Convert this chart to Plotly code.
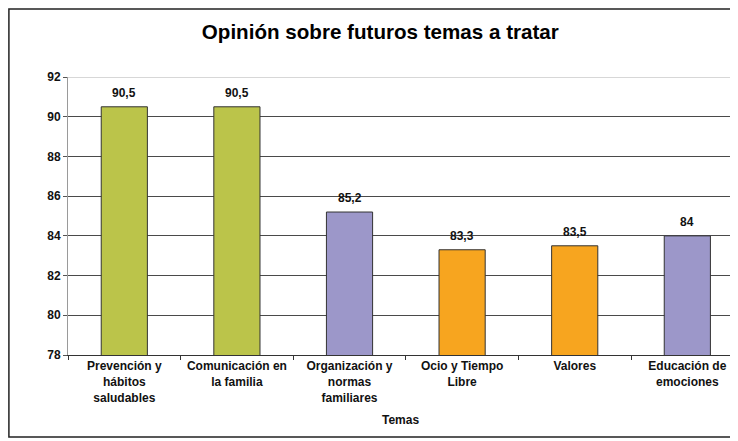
import plotly.graph_objects as go

categories = ["Prevención y<br>hábitos<br>saludables", "Comunicación en<br>la familia",
              "Organización y<br>normas<br>familiares", "Ocio y Tiempo<br>Libre", "Valores",
              "Educación de<br>emociones"]
values = [90.5, 90.5, 85.2, 83.3, 83.5, 84]
colors = ["#BBC44A", "#BBC44A", "#9C97C9", "#F7A51F", "#F7A51F", "#9C97C9"]
y_ticks = [78, 80, 82, 84, 86, 88, 90, 92]

FONT = "Arial, 'Liberation Sans', sans-serif"
labels = [f"{v:g}".replace(".", ",") for v in values]

fig = go.Figure(go.Bar(
    x=categories, y=values,
    marker=dict(color=colors, line=dict(color="#333333", width=1)),
    width=0.41, hoverinfo="x+y",
))

annotations = [dict(x=c, y=v, text=f"<b>{t}</b>", xref="x", yref="y", showarrow=False,
                    yanchor="middle", yshift=14,
                    font=dict(family=FONT, size=12, color="#111111"))
               for c, v, t in zip(categories, values, labels)]
annotations.append(dict(text="<b>Temas</b>", xref="paper", yref="paper", x=0.497,
                        y=-0.234, showarrow=False, yanchor="middle",
                        font=dict(family=FONT, size=12, color="#111111")))

fig.update_layout(
    width=730, height=433,
    margin=dict(l=60, r=0, t=69, b=86),
    paper_bgcolor="white", plot_bgcolor="white",
    font=dict(family=FONT, size=12, color="#111111"),
    title=dict(text="<b>Opinión sobre futuros temas a tratar</b>", x=0.51, y=0.945,
               xanchor="center", yanchor="middle",
               font=dict(family=FONT, size=20.6, color="#000000")),
    showlegend=False,
    xaxis=dict(range=[-0.5, 5.45], showline=True, linecolor="#333333", linewidth=1,
               ticks="outside", tickson="boundaries", ticklen=4, tickcolor="#333333",
               tickfont=dict(family=FONT, size=12, weight="bold"), showgrid=False),
    yaxis=dict(range=[78, 92], tickvals=y_ticks, showline=True, linecolor="#9a9a9a",
               linewidth=1, ticks="outside", ticklen=4, tickcolor="#555555",
               tickfont=dict(family=FONT, size=12, weight="bold"),
               showgrid=True, gridcolor="#4a4a4a", gridwidth=1, zeroline=False),
    shapes=[
        dict(type="line", xref="paper", yref="y", x0=0, x1=1, y0=92, y1=92,
             line=dict(color="#b0b0b0", width=1), layer="above"),
        dict(type="rect", xref="paper", yref="paper", x0=-0.0882, x1=1.02,
             y0=-0.295, y1=1.2448, line=dict(color="#222222", width=1.5),
             fillcolor="rgba(0,0,0,0)", layer="below"),
    ],
    annotations=annotations,
)

fig.write_html("out.html")
